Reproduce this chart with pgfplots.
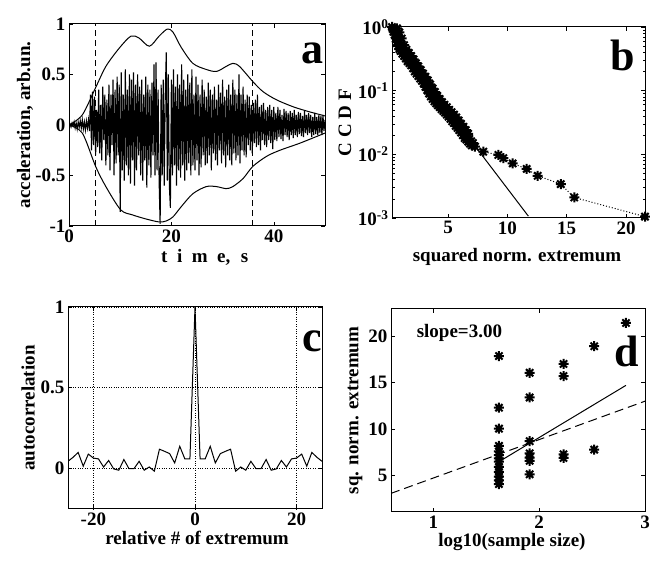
\documentclass[border=0pt]{standalone}
\usepackage{fontspec}
\setmainfont{Liberation Serif}
\usepackage{pgfplots}
\pgfplotsset{compat=1.18}
\newcommand{\ff}{\fontsize{19}{21}\selectfont\bfseries}
\newcommand{\bigf}{\fontsize{44}{44}\selectfont\bfseries}
\pgfdeclareplotmark{mstar}{%
  \pgfpathmoveto{\pgfqpoint{-\pgfplotmarksize}{0pt}}\pgfpathlineto{\pgfqpoint{\pgfplotmarksize}{0pt}}%
  \pgfpathmoveto{\pgfqpoint{0pt}{-\pgfplotmarksize}}\pgfpathlineto{\pgfqpoint{0pt}{\pgfplotmarksize}}%
  \pgfpathmoveto{\pgfqpoint{-0.72\pgfplotmarksize}{-0.72\pgfplotmarksize}}\pgfpathlineto{\pgfqpoint{0.72\pgfplotmarksize}{0.72\pgfplotmarksize}}%
  \pgfpathmoveto{\pgfqpoint{-0.72\pgfplotmarksize}{0.72\pgfplotmarksize}}\pgfpathlineto{\pgfqpoint{0.72\pgfplotmarksize}{-0.72\pgfplotmarksize}}%
  \pgfusepathqstroke}
\pgfplotsset{
  every axis/.append style={
    scale only axis,
    anchor=south west,
    axis line style={line width=1pt},
    tick align=inside,
    major tick length=4pt,
    minor tick length=2.5pt,
    every tick/.style={black, line width=0.6pt},
    tick label style={font=\ff},
    /pgf/number format/assume math mode=true,
  },
  star/.style={mark=mstar, mark size=5pt, mark options={solid, line width=2pt}},
}
\begin{document}
\begin{tikzpicture}
\useasboundingbox (0,0) rectangle (650pt,561pt);

% ---------------- panel a ----------------
\begin{axis}[
  at={(69pt,335pt)}, width=256pt, height=202pt,
  xmin=0, xmax=50, ymin=-1, ymax=1,
  xtick={0,20,40}, ytick={-1,-0.5,0,0.5,1},
  yticklabels={-1,-0.5,0,0.5,1},
  xlabel={t\hspace{0.5em}i\hspace{0.5em}m\hspace{0.5em}e,\hspace{0.55em}s},
  ylabel={acceleration, arb.un.},
  every axis x label/.style={at={(axis description cs:0.53,-0.155)}, anchor=center, font=\ff},
  every axis y label/.style={at={(axis description cs:-0.172,0.5)}, anchor=center, rotate=90, font=\ff},
]
\addplot[black, line width=1.1pt] table {
0 0
0.2 0.01
0.4 -0.02
0.6 0.02
0.8 -0.01
1.0 0.03
1.2 -0.03
1.4 0.02
1.6 -0.04
1.8 0.03
2.0 -0.02
2.2 0.04
2.4 -0.03
2.6 0.05
2.8 -0.04
3.0 0.03
3.2 -0.05
3.4 0.04
3.6 -0.03
3.8 0.05
4.0 -0.06
4.2 0.3
4.4 -0.25
4.6 0.33
4.8 -0.2
5.0 0.28
5.2 -0.3
5.4 0.15
5.6 -0.22
5.8 0.35
6.0 -0.28
6.2 0.2
6.4 -0.35
6.6 0.38
6.8 -0.15
7.0 0.3
7.2 -0.4
7.4 0.25
7.6 -0.3
7.8 0.4
8.0 -0.45
8.2 0.3
8.4 -0.2
8.6 0.45
8.8 -0.5
9.0 0.35
9.2 -0.38
9.4 0.48
9.6 -0.3
9.8 0.4
10.0 -0.86
10.2 0.52
10.4 -0.45
10.6 0.3
10.8 -0.55
11.0 0.55
11.2 -0.4
11.4 0.35
11.6 -0.5
11.8 0.5
12.0 -0.58
12.2 0.45
12.4 -0.35
12.6 0.52
12.8 -0.6
13.0 0.4
13.2 -0.45
13.4 0.5
13.6 -0.3
13.8 0.38
14.0 -0.5
14.2 0.45
14.4 -0.55
14.6 0.3
14.8 -0.35
15.0 0.48
15.2 -0.62
15.4 0.4
15.6 -0.4
15.8 0.35
16.0 -0.52
16.2 0.42
16.4 -0.3
16.6 0.6
16.8 -0.5
17.0 0.62
17.2 -0.45
17.4 0.35
17.6 -0.55
17.8 -0.98
18.0 0.4
18.2 -0.5
18.4 0.45
18.6 -0.6
18.8 0.3
19.0 0.72
19.2 -0.55
19.4 0.5
19.6 -0.6
19.8 -0.82
20.0 0.45
20.2 -0.5
20.4 0.55
20.6 -0.4
20.8 0.38
21.0 -0.6
21.2 0.5
21.4 -0.45
21.6 0.4
21.8 -0.52
22.0 0.6
22.2 -0.4
22.4 0.45
22.6 -0.55
22.8 0.35
23.0 -0.45
23.2 0.5
23.4 -0.38
23.6 0.42
23.8 -0.5
24.0 0.55
24.2 -0.4
24.4 0.3
24.6 -0.45
24.8 0.48
25.0 -0.35
25.2 0.4
25.4 -0.5
25.6 0.3
25.8 -0.42
26.0 0.45
26.2 -0.3
26.4 0.35
26.6 -0.4
26.8 0.28
27.0 -0.38
27.2 0.42
27.4 -0.3
27.6 0.35
27.8 -0.45
28.0 0.3
28.2 -0.28
28.4 0.38
28.6 -0.35
28.8 0.25
29.0 -0.4
29.2 0.4
29.4 -0.25
29.6 0.32
29.8 -0.38
30.0 0.45
30.2 -0.3
30.4 0.28
30.6 -0.42
30.8 0.35
31.0 -0.3
31.2 0.4
31.4 -0.35
31.6 0.3
31.8 -0.4
32.0 0.45
32.2 -0.28
32.4 0.35
32.6 -0.35
32.8 0.3
33.0 -0.3
33.2 0.5
33.4 -0.38
33.6 0.3
33.8 -0.25
34.0 0.38
34.2 -0.3
34.4 0.25
34.6 -0.32
34.8 0.3
35.0 -0.2
35.2 0.28
35.4 -0.25
35.6 0.2
35.8 -0.28
36.0 0.22
36.2 -0.18
36.4 0.25
36.6 -0.22
36.8 0.3
37.0 -0.2
37.2 0.18
37.4 -0.25
37.6 0.2
37.8 -0.15
38.0 0.22
38.2 -0.2
38.4 0.15
38.6 -0.22
38.8 0.18
39.0 -0.15
39.2 0.2
39.4 -0.18
39.6 0.15
39.8 -0.24
40.0 0.18
40.2 -0.15
40.4 0.12
40.6 -0.16
40.8 0.18
41.0 -0.12
41.2 0.15
41.4 -0.14
41.6 0.1
41.8 -0.16
42.0 0.16
42.2 -0.1
42.4 0.14
42.6 -0.12
42.8 0.12
43.0 -0.15
43.2 0.14
43.4 -0.1
43.6 0.12
43.8 -0.13
44.0 0.15
44.2 -0.1
44.4 0.1
44.6 -0.12
44.8 0.13
45.0 -0.09
45.2 0.12
45.4 -0.11
45.6 0.09
45.8 -0.12
46.0 0.14
46.2 -0.08
46.4 0.1
46.6 -0.1
46.8 0.12
47.0 -0.08
47.2 0.1
47.4 -0.12
47.6 0.08
47.8 -0.1
48.0 0.12
48.2 -0.09
48.4 0.08
48.6 -0.1
48.8 0.1
49.0 -0.08
49.2 0.09
49.4 -0.1
49.6 0.1
49.8 -0.06
50.0 0.05
};
% upper envelope
\addplot[black, line width=1pt, smooth] coordinates {
(0,0) (2.6,0.1) (5.2,0.37) (7.2,0.58) (9.8,0.76) (12.1,0.88) (13.7,0.86) (15.7,0.78)
(17.6,0.88) (19.2,0.95) (20.3,0.92) (21.9,0.77) (24.2,0.61) (26.8,0.55) (28.8,0.53)
(30.7,0.58) (32,0.61) (33.3,0.58) (35.9,0.43) (37.9,0.33) (40.5,0.25) (43.8,0.18)
(47,0.13) (50,0.09)};
% lower envelope
\addplot[black, line width=1pt, smooth] coordinates {
(0,0) (2.6,-0.08) (5.2,-0.41) (7.2,-0.61) (10.1,-0.84) (12.4,-0.89) (15,-0.93)
(17.6,-0.96) (19,-0.95) (20.3,-0.91) (21.9,-0.81) (24.2,-0.68) (26.8,-0.61) (28.8,-0.61)
(30.7,-0.63) (32,-0.61) (34,-0.53) (35.9,-0.41) (38.6,-0.31) (41.2,-0.25) (45.1,-0.18)
(50,-0.08)};
\addplot[black, line width=0.9pt, dash pattern=on 6pt off 4pt] coordinates {(5.2,-1) (5.2,1)};
\addplot[black, line width=0.9pt, dash pattern=on 6pt off 4pt] coordinates {(35.9,-1) (35.9,1)};
\node[font=\bigf] at (axis description cs:0.953,0.856) {a};
\end{axis}

% ---------------- panel b ----------------
\begin{axis}[
  at={(392pt,343pt)}, width=253pt, height=191pt,
  ymode=log, clip=false,
  xmin=0.28, xmax=21.6, ymin=0.001, ymax=1,
  xtick={5,10,15,20},
  ytick={0.001,0.01,0.1,1},
  yticklabels={10\textsuperscript{-3},10\textsuperscript{-2},10\textsuperscript{-1},10\textsuperscript{0}},
  xlabel={squared norm. extremum},
  ylabel={C C D F},
  every axis x label/.style={at={(axis description cs:0.494,-0.204)}, anchor=center, font=\ff},
  every axis y label/.style={at={(axis description cs:-0.186,0.5)}, anchor=center, rotate=90, font=\ff},
]
\addplot[black, line width=1pt] coordinates {(0.28,0.7) (11.77,0.00107)};
\addplot[black, line width=1pt, dotted, star] table {
0.28 1.0
0.35 0.93
0.42 0.85
0.5 0.76
0.6 0.66
0.7 0.58
0.8 0.5
0.9 0.45
1.0 0.42
1.15 0.38
1.3 0.35
1.45 0.32
1.6 0.29
1.75 0.27
1.9 0.25
2.05 0.225
2.2 0.2
2.35 0.185
2.5 0.17
2.65 0.155
2.8 0.143
2.95 0.13
3.1 0.115
3.25 0.102
3.4 0.09
3.55 0.081
3.7 0.074
3.85 0.068
4.0 0.063
4.15 0.059
4.3 0.055
4.45 0.051
4.6 0.048
4.75 0.045
4.9 0.042
5.05 0.039
5.2 0.036
5.35 0.033
5.5 0.031
5.65 0.028
5.8 0.026
5.95 0.024
6.1 0.022
6.25 0.02
6.4 0.018
6.55 0.017
6.7 0.0158
6.85 0.0147
7.0 0.0138
7.27 0.0132
7.97 0.011
9.24 0.0098
9.66 0.0087
10.45 0.0072
11.63 0.0059
12.56 0.0046
14.5 0.0034
15.64 0.0021
21.6 0.00105
};
\addplot[black, only marks, star] table {
0.5 0.9
0.65 0.8
0.8 0.68
0.95 0.56
1.1 0.48
1.25 0.43
1.4 0.4
1.55 0.36
1.7 0.33
1.85 0.3
2.0 0.28
2.15 0.26
2.3 0.235
2.45 0.215
2.6 0.195
2.75 0.18
2.9 0.165
3.05 0.15
3.2 0.135
3.35 0.12
3.5 0.108
3.65 0.095
3.8 0.086
3.95 0.078
4.1 0.072
4.25 0.066
4.4 0.062
4.55 0.058
4.7 0.054
4.85 0.05
5.0 0.047
5.15 0.044
5.3 0.041
5.45 0.038
5.6 0.035
5.75 0.032
5.9 0.03
6.05 0.027
6.2 0.025
6.35 0.023
6.5 0.021
6.65 0.019
6.8 0.0175
6.95 0.016
7.1 0.015
};
\addplot[black, only marks, star] table {
0.7 0.95
0.9 0.82
1.1 0.66
1.3 0.52
1.5 0.44
1.7 0.39
1.9 0.35
2.1 0.31
2.3 0.27
2.5 0.24
2.7 0.21
2.9 0.185
3.1 0.165
3.3 0.145
3.5 0.125
3.7 0.108
3.9 0.095
4.1 0.083
4.3 0.074
4.5 0.066
4.7 0.06
4.9 0.055
5.1 0.05
5.3 0.046
5.5 0.042
5.7 0.038
5.9 0.034
6.1 0.03
6.3 0.027
6.5 0.024
6.7 0.021
};
\node[font=\bigf] at (axis description cs:0.913,0.853) {b};
\end{axis}

% ---------------- panel c ----------------
\begin{axis}[
  at={(68pt,52pt)}, width=254pt, height=202pt,
  xmin=-25, xmax=25, ymin=-0.25, ymax=1,
  xtick={-20,0,20}, ytick={0,0.5,1},
  xticklabels={-20,0,20}, yticklabels={0,0.5,1},
  grid=major, grid style={black, dotted, line width=0.9pt},
  xlabel={relative \# of extremum},
  ylabel={autocorrelation},
  every axis x label/.style={at={(axis description cs:0.508,-0.142)}, anchor=center, font=\ff},
  every axis y label/.style={at={(axis description cs:-0.157,0.5)}, anchor=center, rotate=90, font=\ff},
]
\addplot[black, line width=1pt] coordinates {
(-25,0.045) (-24,0.07) (-23,0.10) (-22,0.015) (-21,0.09) (-20,0.065) (-19,0.06) (-18,0.01)
(-17,0.05) (-16,-0.002) (-15,-0.01) (-14,0.056) (-13,0) (-12,0) (-11,0.045) (-10,-0.01)
(-9,0.01) (-8,-0.016) (-7,0.12) (-6,0.107) (-5,0.093) (-4,0.035) (-3,0.138) (-2,0.06)
(-1,0.06) (0,1) (1,0.06) (2,0.06) (3,0.138) (4,0.035) (5,0.093) (6,0.107) (7,0.12)
(8,-0.016) (9,0.01) (10,-0.01) (11,0.045) (12,0) (13,0) (14,0.056) (15,-0.01) (16,-0.002)
(17,0.05) (18,0.01) (19,0.06) (20,0.065) (21,0.09) (22,0.015) (23,0.10) (24,0.07) (25,0.045)};
\node[font=\bigf] at (axis description cs:0.96,0.83) {c};
\end{axis}

% ---------------- panel d ----------------
\begin{axis}[
  at={(391pt,49pt)}, width=254pt, height=203pt,
  xmin=0.6, xmax=3, ymin=1.1, ymax=22.9,
  xtick={1,2,3}, ytick={5,10,15,20},
  xlabel={log10(sample size)},
  ylabel={sq. norm. extremum},
  every axis x label/.style={at={(axis description cs:0.476,-0.148)}, anchor=center, font=\ff},
  every axis y label/.style={at={(axis description cs:-0.142,0.5)}, anchor=center, rotate=90, font=\ff},
]
\addplot[black, only marks, star] table {
1.62 17.85
1.62 12.3
1.62 10.05
1.62 8.2
1.62 7.6
1.62 7.2
1.62 6.85
1.62 6.5
1.62 5.95
1.62 5.4
1.62 4.9
1.62 4.5
1.62 4.1
1.91 16.05
1.91 13.4
1.91 8.7
1.91 7.4
1.91 6.95
1.91 6.6
1.91 5.15
2.23 17.0
2.23 15.7
2.23 7.3
2.23 6.9
2.52 18.9
2.52 7.8
2.82 21.4
};
\addplot[black, line width=1pt] coordinates {(1.62,6.5) (2.82,14.7)};
\addplot[black, line width=1pt, dash pattern=on 9pt off 5pt] coordinates {(0.6,3.1) (3.0,13.0)};
\node[font=\ff, anchor=west] at (axis cs:0.81,20.3) {slope=3.00};
\node[font=\bigf] at (axis description cs:0.93,0.79) {d};
\end{axis}
\end{tikzpicture}
\end{document}
